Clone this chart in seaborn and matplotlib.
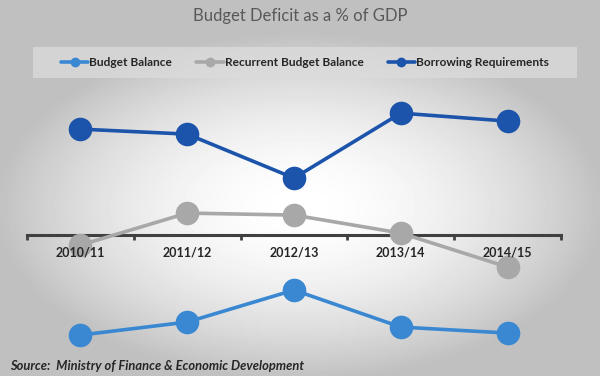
import numpy as np
import pandas as pd
import seaborn as sns
from matplotlib import pyplot as plt
from matplotlib.lines import Line2D
from matplotlib.patches import Rectangle

years = ['2010/11', '2011/12', '2012/13', '2013/14', '2014/15']
budget_balance = [-5.0, -4.35, -2.75, -4.6, -4.9]
recurrent_balance = [-0.5, 1.1, 1.0, 0.1, -1.6]
borrowing_req = [5.3, 5.05, 2.85, 6.1, 5.7]
series_names = ['Budget Balance', 'Recurrent Budget Balance', 'Borrowing Requirements']
colors = ['#3a88d2', '#a8a8a8', '#1c54ac']

df = pd.DataFrame({
    'idx': list(range(len(years))) * 3,
    'value': budget_balance + recurrent_balance + borrowing_req,
    'series': [n for n in series_names for _ in years],
})

sns.set_style('white')
plt.rcParams['font.family'] = ['Lato', 'DejaVu Sans']

fig = plt.figure(figsize=(6, 3.76), dpi=100)

# radial grey background
bg = fig.add_axes([0, 0, 1, 1], zorder=-5)
gx, gy = np.meshgrid(np.linspace(-1, 1, 300), np.linspace(-1, 1, 188))
r = np.sqrt((gx * 1.0) ** 2 + ((gy - 0.1) * 1.1) ** 2)
shade = np.clip(1.0 - 0.24 * r ** 1.8, 0.75, 1.0)
bg.imshow(shade, cmap='gray', vmin=0, vmax=1, aspect='auto', extent=[0, 1, 0, 1])
bg.axis('off')

ax = fig.add_axes([0.045, 0.069, 0.89, 0.678])
ax.patch.set_alpha(0)
sns.lineplot(data=df, x='idx', y='value', hue='series', palette=colors,
             marker='o', markersize=17, markeredgewidth=0, linewidth=2.6,
             legend=False, ax=ax, zorder=3)

ax.set_xlim(-0.5, 4.5)
ax.set_ylim(-5.75, 7.0)
ax.set_xlabel('')
ax.set_ylabel('')
ax.set_yticks([])
for s in ['top', 'right', 'left']:
    ax.spines[s].set_visible(False)
ax.spines['bottom'].set_position(('data', 0))
ax.spines['bottom'].set_color('#404040')
ax.spines['bottom'].set_linewidth(2.2)
ax.spines['bottom'].set_zorder(2)
ax.xaxis.set_zorder(5)
ax.set_xticks(np.arange(-0.5, 5, 1))
ax.set_xticklabels([])
ax.tick_params(axis='x', which='major', bottom=True, direction='out',
               length=3.5, width=2, color='#404040')
ax.set_xticks(range(len(years)), minor=True)
ax.set_xticklabels(years, minor=True, fontsize=9, fontweight='bold')
ax.tick_params(axis='x', which='minor', bottom=True, length=0, pad=8)

fig.text(0.5, 0.958, 'Budget Deficit as a % of GDP', ha='center', va='center',
         fontsize=12, color='#595959')

# legend band
fig.add_artist(Rectangle((33 / 600, 1 - 78 / 376), 544 / 600, 31 / 376,
                         transform=fig.transFigure, facecolor='#dcdcdc',
                         alpha=0.75, edgecolor='none', zorder=1))
handles = [Line2D([], [], color=c, marker='o', markersize=6, linewidth=2.6) for c in colors]
leg = fig.legend(handles, series_names, loc='center', ncol=3,
                 bbox_to_anchor=(305 / 600, 1 - 62.5 / 376), borderaxespad=0,
                 frameon=False, handlelength=2.3, handletextpad=0.1,
                 columnspacing=2.0, prop={'weight': 'bold', 'size': 8.6})

fig.text(0.017, 0.027, 'Source:  Ministry of Finance & Economic Development',
         fontsize=9.3, fontweight='bold', fontstyle='italic', va='center')

fig.savefig('out.png', dpi=100)
